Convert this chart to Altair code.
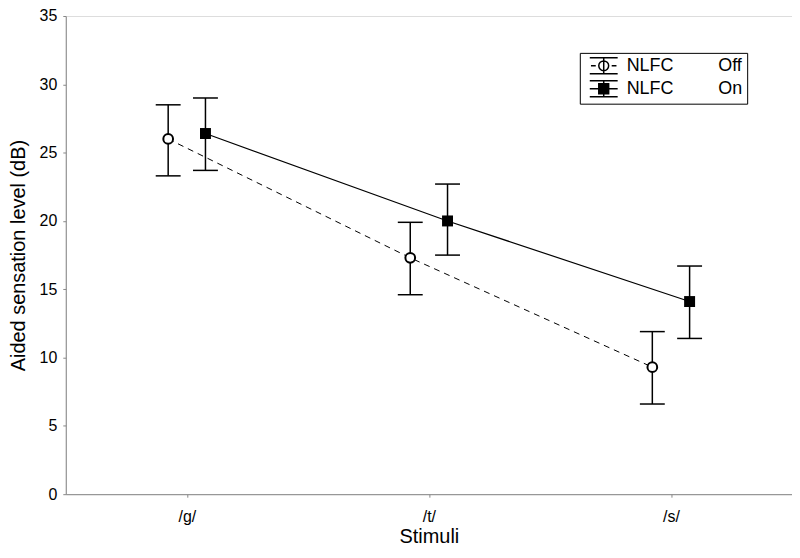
import json
import altair as alt
import pandas as pd

# ---- data ----
categories = ["/g/", "/t/", "/s/"]
series_names = ["Off", "On"]
off_mean = [26.0, 17.3, 9.3]
off_low = [23.3, 14.6, 6.6]
off_high = [28.5, 19.9, 11.9]
on_mean = [26.4, 20.0, 14.1]
on_low = [23.7, 17.5, 11.4]
on_high = [29.0, 22.7, 16.7]
y_ticks = [0, 5, 10, 15, 20, 25, 30, 35]

rows = []
for i, c in enumerate(categories):
    rows.append(dict(stim=c, idx=i + 1, series="Off", mean=off_mean[i], lo=off_low[i], hi=off_high[i]))
    rows.append(dict(stim=c, idx=i + 1, series="On", mean=on_mean[i], lo=on_low[i], hi=on_high[i]))
df = pd.DataFrame(rows)

OFFSET = 0.077
FONT = "Liberation Sans"

base = alt.Chart(df).transform_calculate(
    xpos=f"datum.idx + (datum.series == 'Off' ? -{OFFSET} : {OFFSET})"
)

label_expr = f"{json.dumps(categories)}[datum.value - 1]"
x_axis = alt.Axis(values=[1, 2, 3], labelExpr=label_expr, title="Stimuli", grid=False,
                  tickSize=3, labelPadding=11, labelFontSize=16, titleFontSize=20,
                  titleFontWeight="normal", titlePadding=3, labelFont=FONT, titleFont=FONT)
x_scale = alt.Scale(domain=[0.5, 3.5], nice=False, zero=False)
y_axis = alt.Axis(values=y_ticks, title="Aided sensation level (dB)", grid=False,
                  tickSize=3, labelPadding=6, labelFontSize=16, titleFontSize=20,
                  titleFontWeight="normal", titlePadding=11, labelFont=FONT, titleFont=FONT)
y_scale = alt.Scale(domain=[0, 35], nice=False, zero=True)


def X():
    return alt.X("xpos:Q", scale=x_scale, axis=x_axis)


def Y(field):
    return alt.Y(f"{field}:Q", scale=y_scale, axis=y_axis)


off_only = "datum.series == 'Off'"
on_only = "datum.series == 'On'"

line_off = base.transform_filter(off_only).mark_line(
    color="black", strokeWidth=1, strokeDash=[6, 5]
).encode(x=X(), y=Y("mean"))
line_on = base.transform_filter(on_only).mark_line(
    color="black", strokeWidth=1.2
).encode(x=X(), y=Y("mean"))

err = base.mark_rule(color="black", strokeWidth=1.5).encode(
    x=X(), y=Y("lo"), y2="hi:Q"
)
cap_lo = base.mark_tick(orient="horizontal", size=25, thickness=1.5, color="black", opacity=1).encode(
    x=X(), y=Y("lo")
)
cap_hi = base.mark_tick(orient="horizontal", size=25, thickness=1.5, color="black", opacity=1).encode(
    x=X(), y=Y("hi")
)

pts_off = base.transform_filter(off_only).mark_point(
    shape="circle", size=95, filled=True, fill="white", stroke="black", strokeWidth=2, opacity=1
).encode(x=X(), y=Y("mean"))
pts_on = base.transform_filter(on_only).mark_square(
    size=121, color="black", opacity=1
).encode(x=X(), y=Y("mean"))

# legend-only layer (no rows drawn), symbols mimic the error-bar glyphs
path_off = ("M-1.75,-1H1.75M-1.75,1H1.75M0,-1V1M-1.6,0H-1M1,0H1.6"
            "M0.62,0A0.62,0.62 0 1,1 -0.62,0A0.62,0.62 0 1,1 0.62,0Z")
path_on = ("M-1.75,-1H1.75M-1.75,1H1.75M0,-1V1M-1.75,0H1.75"
           "M-0.62,-0.62H0.62V0.62H-0.62Z")
nb = "\u00a0" * 9
legend = alt.Legend(
    title=None, orient="none", legendX=516, legendY=37,
    labelExpr=f"'NLFC{nb}' + datum.label",
    labelFontSize=18, labelFont=FONT, labelOffset=14, symbolOffset=11,
    symbolSize=256, symbolStrokeColor="black", symbolStrokeWidth=1.5,
    strokeColor="black", fillColor="white", padding=4, rowPadding=1,
)
legend_layer = base.transform_filter("false").mark_point(
    filled=False, size=256, strokeWidth=1.5, opacity=1
).encode(
    x=X(), y=Y("mean"),
    stroke=alt.Stroke("series:N", scale=alt.Scale(domain=series_names, range=["black", "black"]), legend=legend),
    shape=alt.Shape("series:N", scale=alt.Scale(domain=series_names, range=[path_off, path_on]), legend=legend),
    fill=alt.Fill("series:N", scale=alt.Scale(domain=series_names, range=["white", "black"]), legend=legend),
)

chart = alt.layer(
    line_off, line_on, err, cap_lo, cap_hi, pts_off, pts_on, legend_layer
).properties(
    width=729, height=480,
    autosize=alt.AutoSizeParams(type="none"),
    padding={"left": 58, "top": 7, "right": 0, "bottom": 60},
).configure_view(
    stroke="black", strokeWidth=2
).configure_axis(
    domainColor="black", domainWidth=2, tickColor="black", tickWidth=1.2,
    labelColor="black", titleColor="black"
).configure(
    background="white"
)

chart.save("out.html", embed_options={"renderer": "svg", "actions": False})
